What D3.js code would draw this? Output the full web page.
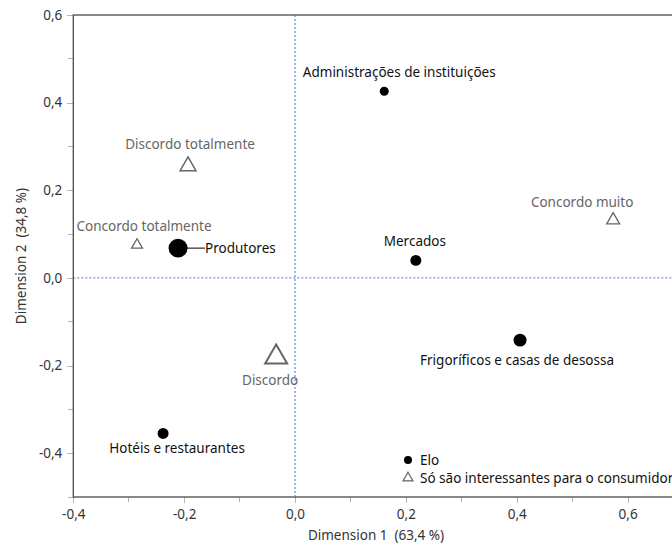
<!DOCTYPE html>
<html>
<head>
<meta charset="utf-8">
<script src="https://cdn.jsdelivr.net/npm/d3@7"></script>
<style>
  body { margin: 0; background: #fff; overflow: hidden; }
  svg text { font-family: "Noto Sans", "Open Sans", sans-serif; }
</style>
</head>
<body>
<svg id="chart" width="760" height="547"></svg>
<script>
// Supply-chain links (Elo) — correspondence analysis coordinates and masses
const eloNames = ["Administrações de instituições", "Mercados", "Frigoríficos e casas de desossa", "Hotéis e restaurantes", "Produtores"];
const eloDim1 = [0.161, 0.218, 0.406, -0.238, -0.211];
const eloDim2 = [0.426, 0.040, -0.142, -0.355, 0.068];
const eloMass = [0.20, 0.30, 0.42, 0.30, 0.90];

// Answers to "Só são interessantes para o consumidor"
const answerNames = ["Discordo totalmente", "Concordo totalmente", "Discordo", "Concordo muito"];
const answerDim1 = [-0.193, -0.285, -0.034, 0.574];
const answerDim2 = [0.255, 0.075, -0.181, 0.132];
const answerMass = [0.64, 0.30, 1.21, 0.42];

const xTicks = [-0.4, -0.2, 0.0, 0.2, 0.4, 0.6];
const yTicks = [-0.4, -0.2, 0.0, 0.2, 0.4, 0.6];
const xTitle = "Dimension 1\u00a0\u00a0(63,4 %)";
const yTitle = "Dimension 2\u00a0\u00a0(34,8 %)";
const legendLabels = ["Elo", "Só são interessantes para o consumidor"];

// Label placement relative to each mark (pixels)
const eloLabelOffset = [[15, -19, "middle"], [-1, -19, "middle"], [-3, 20, "middle"], [14, 15, "middle"], [27, 0, "start"]];
const answerLabelOffset = [[2, -22, "middle"], [7, -19, "middle"], [-6, 23, "middle"], [-31, -18, "middle"]];

(function draw() {
  const svg = d3.select("#chart");
  const pl = 73.3, pt = 15, pr = 683, pb = 497;
  const fs = 13.5;

  const x = d3.scaleLinear().domain([-0.4, 0.7]).range([pl, pr]);
  const y = d3.scaleLinear().domain([-0.5, 0.6]).range([pb, pt]);
  const r = d3.scaleSqrt().domain([0, 1]).range([0, 10]);

  const locale = d3.formatLocale({ decimal: ",", thousands: ".", grouping: [3], currency: ["", ""], minus: "-" });
  const fmt = locale.format(".1f");

  // Minor ticks every 0.1
  const minorX = d3.range(-4, 8).map(i => i / 10).filter(v => !xTicks.some(t => Math.abs(t - v) < 1e-9));
  const minorY = d3.range(-5, 7).map(i => i / 10).filter(v => !yTicks.some(t => Math.abs(t - v) < 1e-9));

  const g = svg.append("g");
  g.selectAll("line.mx").data(minorX).join("line")
    .attr("x1", d => x(d)).attr("x2", d => x(d)).attr("y1", pb).attr("y2", pb + 5)
    .attr("stroke", "#b4b4b4").attr("stroke-width", 1).attr("shape-rendering", "crispEdges");
  g.selectAll("line.my").data(minorY).join("line")
    .attr("y1", d => y(d)).attr("y2", d => y(d)).attr("x1", pl).attr("x2", pl - 5)
    .attr("stroke", "#b4b4b4").attr("stroke-width", 1).attr("shape-rendering", "crispEdges");

  // Axes
  const xAxis = d3.axisBottom(x).tickValues(xTicks).tickFormat(fmt).tickSize(6).tickPadding(6);
  const yAxis = d3.axisLeft(y).tickValues(yTicks).tickFormat(fmt).tickSize(6).tickPadding(5);

  const gx = svg.append("g").attr("transform", `translate(0,${pb})`).call(xAxis);
  const gy = svg.append("g").attr("transform", `translate(${pl},0)`).call(yAxis);
  [gx, gy].forEach(a => {
    a.select(".domain").remove();
    a.selectAll(".tick line").attr("stroke", "#b4b4b4").attr("shape-rendering", "crispEdges");
    a.selectAll(".tick text").attr("fill", "#333").attr("font-size", fs)
      .style("font-family", "\"Noto Sans\", \"Open Sans\", sans-serif");
  });

  // Plot frame
  svg.append("rect")
    .attr("x", pl).attr("y", pt).attr("width", pr - pl).attr("height", pb - pt)
    .attr("fill", "none").attr("stroke", "#4a4a4a").attr("stroke-width", 1.3);

  // Origin reference lines
  svg.append("line").attr("x1", x(0)).attr("x2", x(0)).attr("y1", pt).attr("y2", pb)
    .attr("stroke", "#3b6ee6").attr("stroke-width", 1).attr("stroke-dasharray", "2,2");
  svg.append("line").attr("x1", pl).attr("x2", pr).attr("y1", y(0)).attr("y2", y(0))
    .attr("stroke", "#3b6ee6").attr("stroke-width", 1).attr("stroke-dasharray", "2,2");

  // Axis titles
  svg.append("text").attr("x", 376).attr("y", 540).attr("text-anchor", "middle")
    .attr("font-size", fs).attr("fill", "#333").text(xTitle);
  svg.append("text").attr("transform", `translate(26,${(pt + pb) / 2}) rotate(-90)`)
    .attr("text-anchor", "middle").attr("font-size", fs).attr("fill", "#333").text(yTitle);

  // Triangle path centred on its centroid
  function triangle(half) {
    const h = half * Math.sqrt(3);
    return `M0,${-2 * h / 3}L${half},${h / 3}L${-half},${h / 3}Z`;
  }

  // Answer categories: hollow triangles
  const answers = answerNames.map((name, i) => ({ name, d1: answerDim1[i], d2: answerDim2[i], m: answerMass[i], off: answerLabelOffset[i] }));
  const ag = svg.append("g");
  ag.selectAll("path").data(answers).join("path")
    .attr("transform", d => `translate(${x(d.d1)},${y(d.d2)})`)
    .attr("d", d => triangle(r(d.m)))
    .attr("fill", "none").attr("stroke", "#666")
    .attr("stroke-width", d => Math.max(1.3, r(d.m) / 5.5));
  ag.selectAll("text").data(answers).join("text")
    .attr("x", d => x(d.d1) + d.off[0]).attr("y", d => y(d.d2) + d.off[1] + 4.5)
    .attr("text-anchor", d => d.off[2]).attr("font-size", fs).attr("fill", "#666")
    .text(d => d.name);

  // Elo categories: filled circles
  const elos = eloNames.map((name, i) => ({ name, d1: eloDim1[i], d2: eloDim2[i], m: eloMass[i], off: eloLabelOffset[i] }));
  const eg = svg.append("g");
  eg.selectAll("line").data(elos.filter(d => d.off[2] === "start")).join("line")
    .attr("x1", d => x(d.d1)).attr("x2", d => x(d.d1) + d.off[0])
    .attr("y1", d => y(d.d2)).attr("y2", d => y(d.d2) + d.off[1])
    .attr("stroke", "#000").attr("stroke-width", 1);
  eg.selectAll("circle").data(elos).join("circle")
    .attr("cx", d => x(d.d1)).attr("cy", d => y(d.d2)).attr("r", d => r(d.m))
    .attr("fill", "#000");
  eg.selectAll("text").data(elos).join("text")
    .attr("x", d => x(d.d1) + d.off[0]).attr("y", d => y(d.d2) + d.off[1] + 4.5)
    .attr("text-anchor", d => d.off[2]).attr("font-size", fs).attr("fill", "#111")
    .text(d => d.name);

  // Legend
  const lg = svg.append("g").attr("transform", "translate(408,460)");
  lg.append("circle").attr("cx", 0).attr("cy", 0).attr("r", 4).attr("fill", "#000");
  lg.append("path").attr("transform", "translate(0,18)").attr("d", triangle(5))
    .attr("fill", "none").attr("stroke", "#666").attr("stroke-width", 1.2);
  lg.selectAll("text").data(legendLabels).join("text")
    .attr("x", 12).attr("y", (d, i) => i * 18 + 4.5).attr("font-size", fs).attr("fill", "#111")
    .text(d => d);
})();
</script>
</body>
</html>
